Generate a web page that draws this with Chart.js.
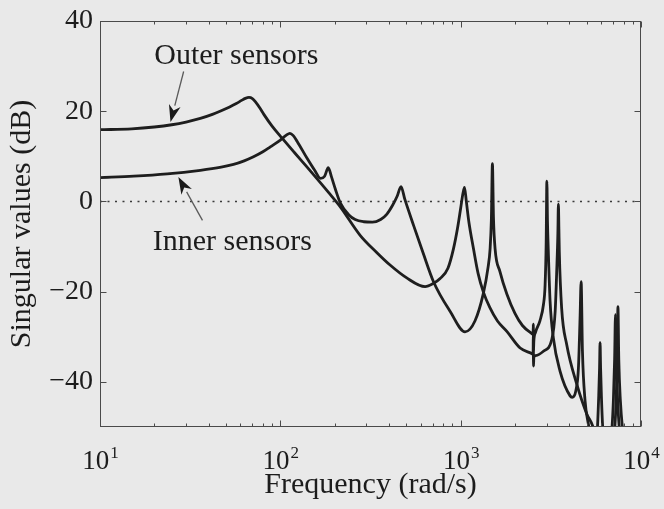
<!DOCTYPE html>
<html>
<head>
<meta charset="utf-8">
<script src="https://cdn.jsdelivr.net/npm/chart.js@4.4.1/dist/chart.umd.min.js"></script>
<style>
  html, body { margin: 0; padding: 0; background: #e9e9e9; }
  #wrap { width: 664px; height: 509px; }
  canvas { display: block; }
</style>
</head>
<body>
<div id="wrap"><canvas id="chart" width="664" height="509"></canvas></div>
<script>
// Maximum singular value of the outer-sensor loop (frequency in rad/s, value in dB)
const outerFreq = [10, 15, 20, 25, 30, 36, 42, 47, 52, 57, 61, 64, 67, 70, 73, 77, 81, 90, 102, 120,
  140, 160, 185, 215, 277, 340, 406, 500, 635, 705, 769, 850, 912, 960, 1000, 1030, 1050, 1075,
  1110, 1178, 1250, 1334, 1450, 1600, 1803, 2138, 2500, 2522, 2528, 2535, 2545, 2600, 2877, 3200,
  3342, 3413, 3460, 3483, 3505, 3524, 3631, 3872, 4404, 5003, 5420, 5700, 6300, 6850, 7030, 7140,
  7220, 7300, 7420, 7650, 8500, 10000];
const outerDb = [15.9, 16.1, 16.5, 17.0, 17.6, 18.4, 19.3, 20.1, 20.9, 21.7, 22.4, 22.85, 23.05, 22.8,
  22.0, 20.7, 19.3, 16.7, 14.1, 10.8, 7.7, 5.0, 2.0, -1.2, -7.5, -11.2, -14.1, -16.9, -18.9, -18.2,
  -17.1, -14.8, -10.5, -6.0, -1.5, 1.8, 3.1, 0.0, -4.5, -10.5, -16.0, -20.0, -23.5, -26.5, -28.8,
  -32.5, -33.8, -33.9, -30.0, -36.5, -34.6, -34.2, -33.2, -30.6, -24.4, -14.9, -7.0, -0.6, -6.0,
  -11.2, -23.7, -31.7, -40.5, -47.1, -50.0, -54.0, -58.0, -52.0, -44.0, -35.0, -25.1, -35.0, -44.0,
  -52.0, -60.0, -66.0];

// Maximum singular value of the inner-sensor loop
const innerFreq = [10, 15.4, 23.6, 36, 47, 55, 63, 71, 80, 88, 100, 108, 113, 118, 124, 141, 155,
  167, 176, 184.5, 192, 202, 215, 240, 260, 290, 324, 360, 390, 420, 445, 467, 490, 548, 620, 707,
  875, 1057, 1200, 1334, 1420, 1456, 1480, 1500, 1520, 1552, 1650, 1803, 2000, 2200, 2500, 2522,
  2528, 2535, 2545, 2600, 2754, 2877, 2939, 2980, 3006, 3030, 3063, 3133, 3267, 3556, 4044, 4150,
  4350, 4498, 4592, 4656, 4735, 4896, 5104, 5300, 5500, 5720, 5830, 5890, 5930, 5970, 6030, 6150,
  6500, 7100, 7280, 7380, 7450, 7530, 7680, 7980, 8500, 10000];
const innerDb = [5.3, 5.6, 6.1, 6.9, 7.6, 8.2, 9.0, 9.9, 11.0, 12.1, 13.6, 14.7, 15.1, 14.6, 13.3,
  9.5, 6.9, 5.1, 5.6, 7.5, 5.5, 2.7, -0.3, -3.0, -4.0, -4.5, -4.6, -4.0, -2.8, -0.8, 1.2, 3.3, 0.5,
  -5.3, -11.5, -17.8, -24.4, -28.9, -26.5, -20.5, -14.5, -10.5, -4.0, 8.4, -3.5, -10.5, -15.5,
  -20.5, -24.8, -27.5, -29.4, -29.5, -27.2, -33.0, -31.0, -29.0, -26.4, -22.9, -18.5, -9.0, 4.5,
  -4.5, -11.2, -22.2, -30.3, -37.6, -43.1, -43.4, -42.0, -36.9, -25.9, -17.8, -33.2, -44.2, -49.3,
  -53.0, -55.0, -51.0, -43.0, -37.0, -31.3, -37.0, -43.0, -51.0, -58.0, -52.0, -44.0, -35.0, -23.3,
  -35.0, -44.0, -52.0, -58.0, -65.0];

// 0 dB reference line
const refFreq = [10, 10000];
const refDb = [0, 0];

// Axis ticks
const xDecades = [10, 100, 1000, 10000];
const xExponents = ['1', '2', '3', '4'];
const yTickValues = [-40, -20, 0, 20, 40];

const xMinor = [];
xDecades.slice(0, -1).forEach(d => { for (let k = 2; k <= 9; k++) xMinor.push(d * k); });

const toPoints = (fs, vs) => fs.map((f, i) => ({ x: f, y: vs[i] }));

const SERIF = '"Liberation Serif", "Times New Roman", serif';
const INK = '#1c1c1c';

// Call-out labels with arrows, placed in data units (rad/s, dB)
const callouts = [
  { text: 'Outer sensors', at: [57, 32.2], tail: [29.1, 28.8], tip: [24.6, 17.6] },
  { text: 'Inner sensors', at: [54.2, -9.0], tail: [37, -4.2], tip: [27.2, 5.4] }
];

const framePlugin = {
  id: 'frame',
  afterDraw(chart) {
    const { ctx, chartArea: a, scales: { x, y } } = chart;
    ctx.save();
    const L = Math.round(a.left) + 0.5, R = Math.round(a.right) - 0.5;
    const T = Math.round(a.top) + 0.5, B = Math.round(a.bottom) - 0.5;

    // box and inward ticks
    ctx.strokeStyle = '#4a4a4a';
    ctx.lineWidth = 1;
    ctx.strokeRect(L, T, R - L, B - T);
    ctx.beginPath();
    x.ticks.forEach(t => {
      const px = Math.round(x.getPixelForValue(t.value)) + 0.5;
      const len = t.decade ? 6 : 3;
      ctx.moveTo(px, B); ctx.lineTo(px, B - len);
      ctx.moveTo(px, T); ctx.lineTo(px, T + len);
    });
    y.ticks.forEach(t => {
      const py = Math.round(y.getPixelForValue(t.value)) + 0.5;
      ctx.moveTo(L, py); ctx.lineTo(L + 6, py);
      ctx.moveTo(R, py); ctx.lineTo(R - 6, py);
    });
    ctx.stroke();

    // decade labels 10^n
    ctx.fillStyle = INK;
    ctx.textBaseline = 'alphabetic';
    ctx.textAlign = 'left';
    xDecades.forEach((d, i) => {
      const px = x.getPixelForValue(d);
      ctx.font = '27px ' + SERIF;
      const wBase = ctx.measureText('10').width;
      ctx.font = '17px ' + SERIF;
      const wExp = ctx.measureText(xExponents[i]).width;
      const x0 = px - (wBase + wExp) / 2;
      ctx.font = '27px ' + SERIF;
      ctx.fillText('10', x0, a.bottom + 42);
      ctx.font = '17px ' + SERIF;
      ctx.fillText(xExponents[i], x0 + wBase + 1, a.bottom + 31);
    });

    // call-outs
    callouts.forEach(c => {
      const tx = x.getPixelForValue(c.at[0]), ty = y.getPixelForValue(c.at[1]);
      ctx.font = '30px ' + SERIF;
      ctx.textAlign = 'center';
      ctx.textBaseline = 'middle';
      ctx.fillStyle = INK;
      ctx.fillText(c.text, tx, ty);

      const x1 = x.getPixelForValue(c.tail[0]), y1 = y.getPixelForValue(c.tail[1]);
      const x2 = x.getPixelForValue(c.tip[0]), y2 = y.getPixelForValue(c.tip[1]);
      const ang = Math.atan2(y2 - y1, x2 - x1);
      const headLen = 17, headHalf = 6;
      const bx = x2 - headLen * Math.cos(ang), by = y2 - headLen * Math.sin(ang);
      ctx.strokeStyle = '#5a5a5a';
      ctx.lineWidth = 1.3;
      ctx.beginPath();
      ctx.moveTo(x1, y1); ctx.lineTo(bx, by);
      ctx.stroke();
      ctx.fillStyle = '#1a1a1a';
      ctx.beginPath();
      ctx.moveTo(x2, y2);
      ctx.lineTo(bx + headHalf * Math.sin(ang), by - headHalf * Math.cos(ang));
      ctx.lineTo(x2 - (headLen - 5) * Math.cos(ang), y2 - (headLen - 5) * Math.sin(ang));
      ctx.lineTo(bx - headHalf * Math.sin(ang), by + headHalf * Math.cos(ang));
      ctx.closePath();
      ctx.fill();
    });
    ctx.restore();
  }
};

const curveStyle = {
  borderColor: '#1e1e1e',
  borderWidth: 2.8,
  pointRadius: 0,
  fill: false,
  cubicInterpolationMode: 'monotone',
  clip: 0
};

new Chart(document.getElementById('chart'), {
  type: 'line',
  data: {
    datasets: [
      { label: 'Outer sensors', data: toPoints(outerFreq, outerDb), ...curveStyle },
      { label: 'Inner sensors', data: toPoints(innerFreq, innerDb), ...curveStyle },
      { label: '0 dB', data: toPoints(refFreq, refDb), borderColor: '#3a3a3a', borderWidth: 1.6,
        borderDash: [2, 5.5], pointRadius: 0, fill: false, clip: 0, order: 5 }
    ]
  },
  options: {
    responsive: false,
    animation: false,
    events: [],
    layout: { padding: { left: 0, right: 23, top: 17, bottom: 0 } },
    plugins: { legend: { display: false }, tooltip: { enabled: false } },
    scales: {
      x: {
        type: 'logarithmic',
        min: 10, max: 10000,
        grid: { display: false, drawTicks: false },
        border: { display: false },
        ticks: { display: false },
        afterBuildTicks: s => {
          s.ticks = xDecades.map(v => ({ value: v, decade: true }))
            .concat(xMinor.map(v => ({ value: v, decade: false })));
        },
        afterFit: s => { s.height = 82; },
        title: {
          display: true, text: 'Frequency (rad/s)', color: INK,
          font: { family: SERIF, size: 30 }, padding: { top: 0, bottom: 6 }
        }
      },
      y: {
        type: 'linear',
        min: -50, max: 40,
        grid: { display: false, drawTicks: false },
        border: { display: false },
        afterBuildTicks: s => { s.ticks = yTickValues.map(v => ({ value: v })); },
        afterFit: s => { s.width = 100; },
        ticks: {
          color: INK, padding: 7,
          font: { family: SERIF, size: 28, lineHeight: 1 },
          callback: v => (v < 0 ? '\u2212' + Math.abs(v) : String(v))
        },
        title: {
          display: true, text: 'Singular values (dB)', color: INK,
          font: { family: SERIF, size: 30 }, padding: { top: 4, bottom: 0 }
        }
      }
    }
  },
  plugins: [framePlugin]
});
</script>
</body>
</html>
